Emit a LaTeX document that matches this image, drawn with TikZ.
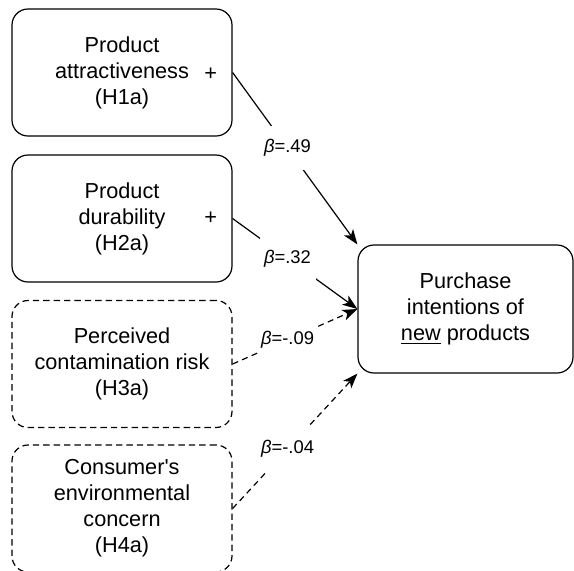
\documentclass[tikz,border=0pt]{standalone}
\usepackage{fontspec}
\setmainfont{Liberation Sans}[Ligatures=TeXOff]
\usetikzlibrary{arrows.meta}

\begin{document}
\begin{tikzpicture}[x=0.5pt, y=-0.5pt, >={Stealth[length=7.5pt,width=5.5pt,inset=2pt]},
  factor/.style={draw, line width=0.6pt, rounded corners=8pt, align=center,
    minimum width=110pt, minimum height=63.5pt, inner sep=0pt,
    font=\fontsize{10.85}{13}\selectfont},
  latent/.style={factor, dash pattern=on 3.2pt off 2pt},
  outcome/.style={factor, minimum width=107.5pt, minimum height=64pt},
  path/.style={->, line width=0.6pt},
  weakpath/.style={path, dash pattern=on 3pt off 2.2pt},
  coef/.style={fill=white, pos=0.44, minimum width=28pt, minimum height=22pt,
    inner sep=0pt, font=\fontsize{9.2}{11}\selectfont},
  sign/.style={inner sep=0pt, font=\fontsize{10.85}{13}\selectfont}]

  \useasboundingbox (0,0) rectangle (574,570);

  % Predictors (H1a--H4a)
  \node[factor] (attr) at (122,72.5) {Product\\attractiveness\\(H1a)};
  \node[factor] (dura) at (122,218.5) {Product\\durability\\(H2a)};
  \node[latent] (risk) at (122,364) {Perceived\\contamination risk\\(H3a)};
  \node[latent] (envi) at (122,508.5) {Consumer's\\environmental\\concern\\(H4a)};

  % Outcome
  \node[outcome] (purchase) at (465.5,309) {Purchase\\intentions of\\\underline{new} products};

  % Paths with coefficients
  \draw[path] (attr.east) -- (purchase.north west) node[coef] (b1) {\textit{β}=.49};
  \draw[path] (dura.east) -- (purchase.west) node[coef] (b2) {\textit{β}=.32};
  \draw[weakpath] (risk.east) -- (purchase.west) node[coef] (b3) {\textit{β}=-.09};
  \draw[weakpath] (envi.east) -- (purchase.south west) node[coef] (b4) {\textit{β}=-.04};

  % Signs
  \node[sign] (plusA) at ([xshift=-11pt,yshift=-1pt]attr.east) {+};
  \node[sign] (plusD) at ([xshift=-11pt]dura.east) {+};
\end{tikzpicture}
\end{document}
